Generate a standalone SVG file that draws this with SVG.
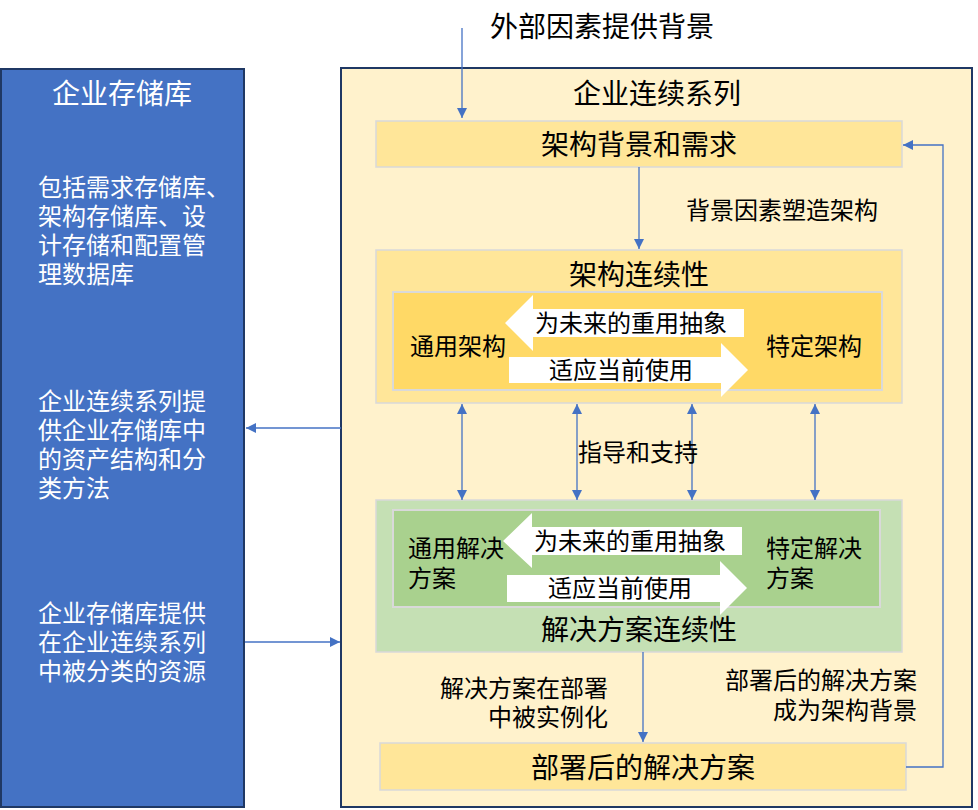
<svg xmlns="http://www.w3.org/2000/svg" width="978" height="810" viewBox="0 0 978 810">
<defs>
<style>
text{font-family:"Noto Sans CJK SC","Liberation Sans",sans-serif;fill:#000}
.t26{font-size:28px}
.t22{font-size:24px}
.w{fill:#fff}
.m{text-anchor:middle}
.e{text-anchor:end}
.ln{stroke:#4472C4;stroke-width:1.3;fill:none}
.blk{fill:#fff}
</style>
<marker id="ah" viewBox="0 0 10 10" refX="10" refY="5" markerWidth="10" markerHeight="10" markerUnits="userSpaceOnUse" orient="auto-start-reverse"><path d="M0,0L10,5L0,10z" fill="#4472C4"/></marker>
</defs>
<rect width="978" height="810" fill="#fff"/>
<g id="repo">
<rect x="1" y="69" width="243" height="738" fill="#4472C4" stroke="#1F3864" stroke-width="2"/>
<text class="t26 w m" x="122" y="104">企业存储库</text>
<text class="t22 w" x="38" y="196"><tspan x="38">包括需求存储库、</tspan><tspan x="38" dy="29">架构存储库、设</tspan><tspan x="38" dy="29">计存储和配置管</tspan><tspan x="38" dy="29">理数据库</tspan></text>
<text class="t22 w" x="38" y="410"><tspan x="38">企业连续系列提</tspan><tspan x="38" dy="29">供企业存储库中</tspan><tspan x="38" dy="29">的资产结构和分</tspan><tspan x="38" dy="29">类方法</tspan></text>
<text class="t22 w" x="38" y="622"><tspan x="38">企业存储库提供</tspan><tspan x="38" dy="29">在企业连续系列</tspan><tspan x="38" dy="29">中被分类的资源</tspan></text>
</g>
<g id="continuum">
<rect x="341" y="68" width="631" height="739" fill="#FFF2CC" stroke="#1F3864" stroke-width="2"/>
<text class="t26 m" x="657" y="104">企业连续系列</text>
</g>
<text id="external" class="t26" x="490" y="37">外部因素提供背景</text>
<g id="context">
<rect x="376" y="121" width="526" height="46" fill="#FFE699" stroke="#D9D9D9" stroke-width="1.5"/>
<text class="t26 m" x="639" y="155">架构背景和需求</text>
</g>
<g id="arch">
<rect x="376" y="250" width="526" height="153" fill="#FFE699" stroke="#D9D9D9" stroke-width="1.5"/>
<text class="t26 m" x="639" y="285">架构连续性</text>
<rect x="393" y="292" width="489" height="98" fill="#FFD966" stroke="#D9D9D9" stroke-width="2"/>
<path class="blk" d="M505,323L533,295L533,309L744,309L744,337L533,337L533,351z"/>
<path class="blk" d="M509,357L721,357L721,343L748,370L721,397L721,383L509,383z"/>
<text class="t22 m" x="631" y="332">为未来的重用抽象</text>
<text class="t22 m" x="621" y="379">适应当前使用</text>
<text class="t22" x="410" y="355">通用架构</text>
<text class="t22" x="766" y="355">特定架构</text>
</g>
<g id="sol">
<rect x="376" y="500" width="526" height="152" fill="#C5E0B4" stroke="#D9D9D9" stroke-width="1.5"/>
<rect x="393" y="510" width="487" height="97" fill="#A9D18E" stroke="#D9D9D9" stroke-width="2"/>
<path class="blk" d="M503,541L532,513L532,527L742,527L742,555L532,555L532,568z"/>
<path class="blk" d="M507,575L720,575L720,561L747,588L720,615L720,602L507,602z"/>
<text class="t22 m" x="630" y="550">为未来的重用抽象</text>
<text class="t22 m" x="620" y="597">适应当前使用</text>
<text class="t22" x="408" y="557"><tspan x="408">通用解决</tspan><tspan x="408" dy="30">方案</tspan></text>
<text class="t22" x="766" y="557"><tspan x="766">特定解决</tspan><tspan x="766" dy="30">方案</tspan></text>
<text class="t26 m" x="639" y="640">解决方案连续性</text>
</g>
<g id="deployed">
<rect x="380" y="743" width="526" height="47" fill="#FFE699" stroke="#D9D9D9" stroke-width="1.5"/>
<text class="t26 m" x="643" y="778">部署后的解决方案</text>
</g>
<g id="connectors">
<line class="ln" x1="462" y1="28" x2="462" y2="118" marker-end="url(#ah)"/>
<line class="ln" x1="639" y1="167" x2="639" y2="249" marker-end="url(#ah)"/>
<line class="ln" x1="462" y1="404" x2="462" y2="500" marker-start="url(#ah)" marker-end="url(#ah)"/>
<line class="ln" x1="577" y1="404" x2="577" y2="500" marker-start="url(#ah)" marker-end="url(#ah)"/>
<line class="ln" x1="692" y1="404" x2="692" y2="500" marker-start="url(#ah)" marker-end="url(#ah)"/>
<line class="ln" x1="815" y1="404" x2="815" y2="500" marker-start="url(#ah)" marker-end="url(#ah)"/>
<line class="ln" x1="643" y1="652" x2="643" y2="742" marker-end="url(#ah)"/>
<polyline class="ln" points="906,767 943,767 943,145 903,145" marker-end="url(#ah)"/>
<line class="ln" x1="341" y1="428" x2="246" y2="428" marker-end="url(#ah)"/>
<line class="ln" x1="245" y1="642" x2="340" y2="642" marker-end="url(#ah)"/>
<text class="t22" x="686" y="219">背景因素塑造架构</text>
<text class="t22" x="578" y="461">指导和支持</text>
<text class="t22 e" x="608" y="697"><tspan x="608">解决方案在部署</tspan><tspan x="608" dy="29">中被实例化</tspan></text>
<text class="t22 e" x="917" y="689"><tspan x="917">部署后的解决方案</tspan><tspan x="917" dy="30">成为架构背景</tspan></text>
</g>
</svg>
